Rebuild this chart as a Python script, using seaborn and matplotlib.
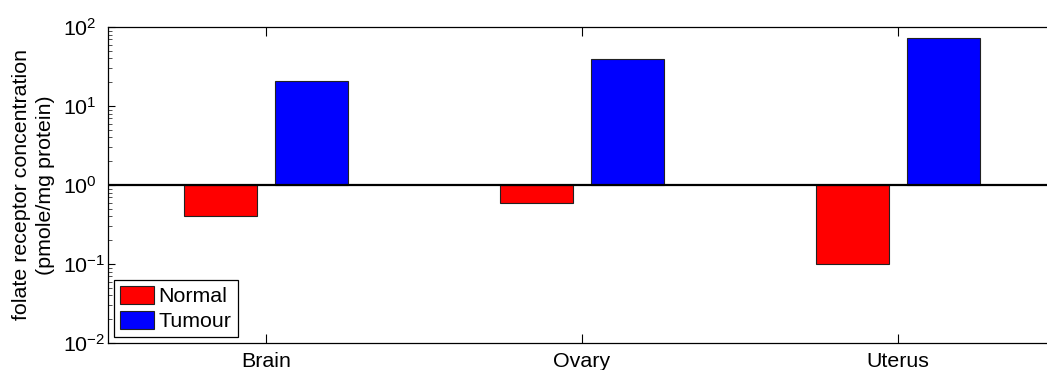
import matplotlib
matplotlib.use("Agg")
import matplotlib.pyplot as plt
import seaborn as sns
import pandas as pd

# ---- data ----
tissues = ["Brain", "Ovary", "Uterus"]
normal_vals = [0.40, 0.60, 0.10]
tumour_vals = [21.0, 39.0, 72.0]
groups = ["Normal", "Tumour"]
colors = ["#FF0000", "#0000FF"]
ylabel = "folate receptor concentration\n(pmole/mg protein)"
yticks = [1e-2, 1e-1, 1e0, 1e1, 1e2]

df = pd.DataFrame({
    "tissue": tissues * 2,
    "value": normal_vals + tumour_vals,
    "group": [groups[0]] * 3 + [groups[1]] * 3,
})

sns.set_style("ticks")
plt.rcParams["font.family"] = ["Liberation Sans", "DejaVu Sans"]
plt.rcParams["mathtext.fontset"] = "custom"
plt.rcParams["mathtext.rm"] = "Liberation Sans"
plt.rcParams["mathtext.it"] = "Liberation Sans:italic"
plt.rcParams["mathtext.bf"] = "Liberation Sans:bold"
for k in ["text.color", "axes.labelcolor", "xtick.color", "ytick.color"]:
    plt.rcParams[k] = "black"

FS = 15.4

fig = plt.figure(figsize=(10.47, 3.70), dpi=100)
ax = fig.add_axes([108 / 1047, 27 / 370, (1056 - 108) / 1047, (343 - 27) / 370])

sns.barplot(data=df, x="tissue", y="value", hue="group", order=tissues,
            hue_order=groups, palette=colors, width=0.576, gap=0.2,
            edgecolor="#222222", linewidth=0.8, saturation=1, ax=ax)

ax.set_yscale("log")
# bars grow from the baseline at 1 (up for >1, down for <1)
for cont in ax.containers:
    for bar, val in zip(cont, cont.datavalues):
        bar.set_y(1.0)
        bar.set_height(val - 1.0)

ax.set_ylim(1e-2, 1e2)
ax.set_yticks(yticks)
ax.set_xlim(-0.5, 2.5)
ax.axhline(1.0, color="black", lw=1.6, zorder=5)

ax.set_xlabel("")
ax.set_ylabel(ylabel, fontsize=FS, linespacing=1.33)
ax.yaxis.set_label_coords(-0.056, 0.5)

ax.tick_params(axis="x", which="both", direction="in", top=True, bottom=True,
               length=6.5, width=0.8, labelsize=FS, pad=6.5, color="black")
ax.tick_params(axis="y", which="major", direction="in", left=True, right=True,
               length=5, width=0.8, labelsize=FS, pad=32.4, color="black")
ax.tick_params(axis="y", which="minor", direction="in", left=True, right=True,
               length=3, width=0.6, color="#333333")

for sp in ax.spines.values():
    sp.set_visible(True)
    sp.set_color("black")
    sp.set_linewidth(0.9)

sns.move_legend(ax, "lower left", bbox_to_anchor=(0.0063, 0.019),
                borderaxespad=0, title=None, frameon=True, fontsize=FS,
                handlelength=1.61, handleheight=0.92, handletextpad=0.2,
                labelspacing=0.2, borderpad=0.28, fancybox=False)
leg = ax.get_legend()
leg.get_frame().set_edgecolor("black")
leg.get_frame().set_linewidth(0.9)
leg.get_frame().set_alpha(1)

fig.canvas.draw()
for t in ax.yaxis.get_major_ticks():
    t.label1.set_horizontalalignment("left")

fig.savefig("out.png", dpi=100)
